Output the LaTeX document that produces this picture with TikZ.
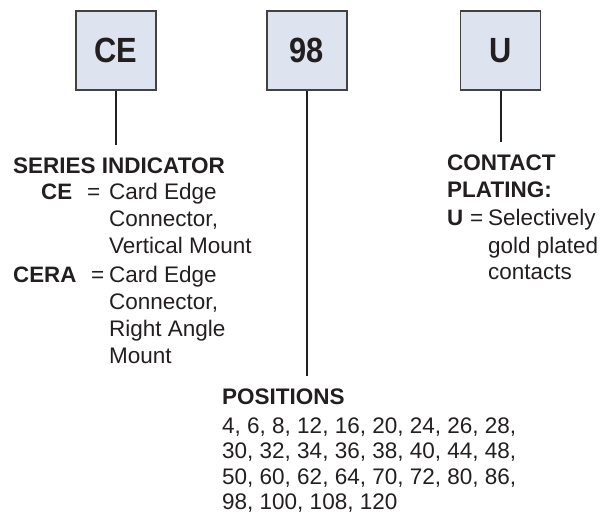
\documentclass[tikz,border=0pt]{standalone}
\usepackage{fontspec}
\setmainfont{Liberation Sans}
\newfontfamily\boxfont[FakeStretch=0.88]{Liberation Sans}
\usetikzlibrary{positioning}
\definecolor{boxfill}{HTML}{DDE4EF}
\definecolor{ink}{HTML}{231F20}
\tikzset{
  codebox/.style={draw=ink!85,line width=1.2pt,fill=boxfill,minimum width=80pt,minimum height=79pt,
    font=\boxfont\fontsize{35}{40}\selectfont\bfseries,text=ink},
  head/.style={anchor=base west,inner sep=0pt,font=\fontsize{22.5}{26}\selectfont\bfseries,text=ink},
  key/.style={anchor=base west,inner sep=0pt,font=\fontsize{22.3}{26}\selectfont\bfseries,text=ink},
  body/.style={anchor=base west,inner sep=0pt,font=\fontsize{22.5}{26}\selectfont,text=ink},
  lead/.style={line width=2pt,draw=ink,shorten >=12pt}
}
\begin{document}
\begin{tikzpicture}[x=1pt,y=-1pt]
    \useasboundingbox (0,0) rectangle (614,517);
    % code boxes
    \node[codebox] (ce) at (116,50.5) {CE};
    \node[codebox] (pos) at (307,50.5) {98};
    \node[codebox] (plat) at (500.5,50.5) {U};
    % series indicator
    \node[head] (series) at (13,173) {SERIES INDICATOR};
    \node[key] (cekey) at (41,199) {CE};
    \node[body] (ceeq) at (87,199) {=};
    \node[body] (ce1) at (109,199) {Card Edge};
    \node[body] (ce2) at (109,226) {Connector,};
    \node[body] (ce3) at (109,253) {Vertical Mount};
    \node[key] (cerakey) at (13,282) {CERA};
    \node[body] (ceraeq) at (91,282) {=};
    \node[body] (cera1) at (109,282) {Card Edge};
    \node[body] (cera2) at (109,309) {Connector,};
    \node[body] (cera3) at (109,336) {Right Angle};
    \node[body] (cera4) at (109,363) {Mount};
    % contact plating
    \node[head] (contact) at (447,170) {CONTACT};
    \node[head] (plating) at (447,197) {PLATING:};
    \node[key] (ukey) at (447,225) {U};
    \node[body] (ueq) at (470,225) {=};
    \node[body] (u1) at (488,225) {Selectively};
    \node[body] (u2) at (488,253) {gold plated};
    \node[body] (u3) at (488,279) {contacts};
    % positions
    \node[head] (positions) at (222,404) {POSITIONS};
    \node[body] (row1) at (222,433) {4, 6, 8, 12, 16, 20, 24, 26, 28,};
    \node[body] (row2) at (222,458) {30, 32, 34, 36, 38, 40, 44, 48,};
    \node[body] (row3) at (222,484) {50, 60, 62, 64, 70, 72, 80, 86,};
    \node[body] (row4) at (222,509) {98, 100, 108, 120};
    % leads
    \draw[lead] (ce.south) -- (ce.south |- series.north);
    \draw[lead] (pos.south) -- (pos.south |- positions.north);
    \draw[lead] (plat.south) -- (plat.south |- contact.north);
\end{tikzpicture}
\end{document}
